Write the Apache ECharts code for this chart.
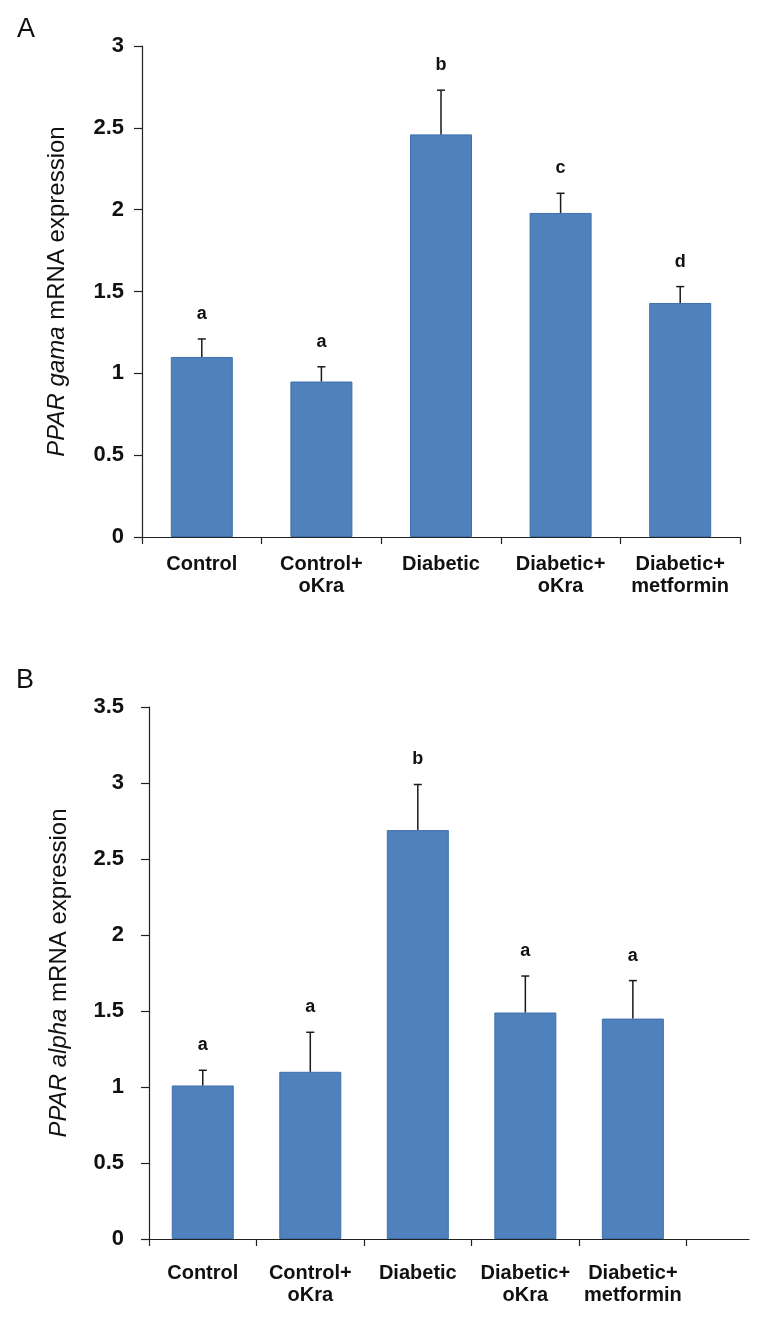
<!DOCTYPE html>
<html>
<head>
<meta charset="utf-8"/>
<title>PPAR mRNA expression</title>
<script src="https://cdn.jsdelivr.net/npm/echarts@6/dist/echarts.min.js"></script>
<style>
  html, body { margin: 0; padding: 0; background: #fff; }
  #container { width: 771px; height: 1341px; }
</style>
</head>
<body>
<div id="container"></div>
<script type="text/javascript">
    // groups (same for both panels)
    var groups = ['Control', 'Control+\noKra', 'Diabetic', 'Diabetic+\noKra', 'Diabetic+\nmetformin'];

    // panel A: PPAR gama
    var gamaMean = [1.10, 0.95, 2.46, 1.98, 1.43];
    var gamaErr = [0.11, 0.09, 0.27, 0.12, 0.10];
    var gamaLetters = ['a', 'a', 'b', 'c', 'd'];

    // panel B: PPAR alpha
    var alphaMean = [1.01, 1.10, 2.69, 1.49, 1.45];
    var alphaErr = [0.10, 0.26, 0.30, 0.24, 0.25];
    var alphaLetters = ['a', 'a', 'b', 'a', 'a'];

    var FONT = 'Arial, "Liberation Sans", sans-serif';
    var BAR_COLOR = '#4F81BD';

    var myChart = echarts.init(document.getElementById('container'));

    // bars sit at the middle of each unit of a value x axis
    function barData(mean) {
        var out = [];
        for (var i = 0; i < mean.length; i++) {
            out.push([i + 0.5, mean[i]]);
        }
        return out;
    }

    function errData(mean, err, letters) {
        var out = [];
        for (var i = 0; i < mean.length; i++) {
            out.push([i + 0.5, mean[i], err[i], letters[i]]);
        }
        return out;
    }

    function renderErr(params, api) {
        var x = api.value(0);
        var v = api.value(1);
        var e = api.value(2);
        var p0 = api.coord([x, v]);
        var p1 = api.coord([x, v + e]);
        var style = { stroke: '#1a1a1a', lineWidth: 1.5 };
        return {
            type: 'group',
            children: [
                { type: 'line', shape: { x1: p0[0], y1: p0[1], x2: p1[0], y2: p1[1] }, style: style },
                { type: 'line', shape: { x1: p1[0] - 4, y1: p1[1], x2: p1[0] + 4, y2: p1[1] }, style: style },
                {
                    type: 'text',
                    x: p1[0], y: p1[1] - 25,
                    style: {
                        text: String(api.value(3)),
                        fill: '#111', font: 'bold 18px ' + FONT,
                        align: 'center', verticalAlign: 'middle'
                    }
                }
            ]
        };
    }

    var tickPos = [0, 1, 2, 3, 4, 5];
    var labelPos = [0.5, 1.5, 2.5, 3.5, 4.5];

    function xAxisFor(idx, max, labelMargin) {
        return {
            type: 'value',
            gridIndex: idx,
            min: 0,
            max: max,
            splitLine: { show: false },
            axisLine: { show: true, lineStyle: { color: '#222', width: 1.2 } },
            axisTick: { show: true, length: 7, customValues: tickPos, lineStyle: { color: '#222', width: 1.2 } },
            axisLabel: {
                customValues: labelPos,
                margin: labelMargin,
                color: '#111',
                fontFamily: FONT,
                fontWeight: 'bold',
                fontSize: 20,
                lineHeight: 22,
                formatter: function (val) {
                    return groups[Math.floor(val)];
                }
            }
        };
    }

    function yAxisFor(idx, max, name, labelMargin, gap) {
        return {
            type: 'value',
            gridIndex: idx,
            min: 0,
            max: max,
            interval: 0.5,
            splitLine: { show: false },
            axisLine: { show: true, lineStyle: { color: '#222', width: 1.2 } },
            axisTick: { show: true, length: 8, lineStyle: { color: '#222', width: 1.2 } },
            axisLabel: {
                margin: labelMargin,
                color: '#111',
                fontFamily: FONT,
                fontWeight: 'bold',
                fontSize: 22
            },
            name: name,
            nameLocation: 'middle',
            nameRotate: 90,
            nameGap: gap,
            nameTextStyle: {
                color: '#111',
                fontFamily: FONT,
                fontSize: 24,
                rich: {
                    i: { fontStyle: 'italic', fontFamily: FONT, fontSize: 24, color: '#111' }
                }
            }
        };
    }

    var option = {
        animation: false,
        backgroundColor: '#fff',
        title: [
            { text: 'A', left: 17, top: 16, padding: 0, textStyle: { fontFamily: FONT, fontWeight: 'normal', fontSize: 27, color: '#111' } },
            { text: 'B', left: 16, top: 667, padding: 0, textStyle: { fontFamily: FONT, fontWeight: 'normal', fontSize: 27, color: '#111' } }
        ],
        grid: [
            { left: 142, right: 31, top: 46, bottom: 804 },
            { left: 149, right: 22, top: 707, bottom: 102 }
        ],
        xAxis: [
            xAxisFor(0, 5, 16),
            xAxisFor(1, 5.58, 23)
        ],
        yAxis: [
            yAxisFor(0, 3, '{i|PPAR gama} mRNA expression', 18, 73),
            yAxisFor(1, 3.5, '{i|PPAR alpha} mRNA expression', 25, 78)
        ],
        series: [
            {
                type: 'bar', xAxisIndex: 0, yAxisIndex: 0, barWidth: 62,
                itemStyle: { color: BAR_COLOR, borderColor: '#3E70AD', borderWidth: 1 },
                data: barData(gamaMean)
            },
            {
                type: 'custom', xAxisIndex: 0, yAxisIndex: 0, clip: false,
                renderItem: renderErr, encode: { x: 0, y: 1 },
                data: errData(gamaMean, gamaErr, gamaLetters), z: 5
            },
            {
                type: 'bar', xAxisIndex: 1, yAxisIndex: 1, barWidth: 62,
                itemStyle: { color: BAR_COLOR, borderColor: '#3E70AD', borderWidth: 1 },
                data: barData(alphaMean)
            },
            {
                type: 'custom', xAxisIndex: 1, yAxisIndex: 1, clip: false,
                renderItem: renderErr, encode: { x: 0, y: 1 },
                data: errData(alphaMean, alphaErr, alphaLetters), z: 5
            }
        ]
    };

    myChart.setOption(option);
</script>
</body>
</html>
